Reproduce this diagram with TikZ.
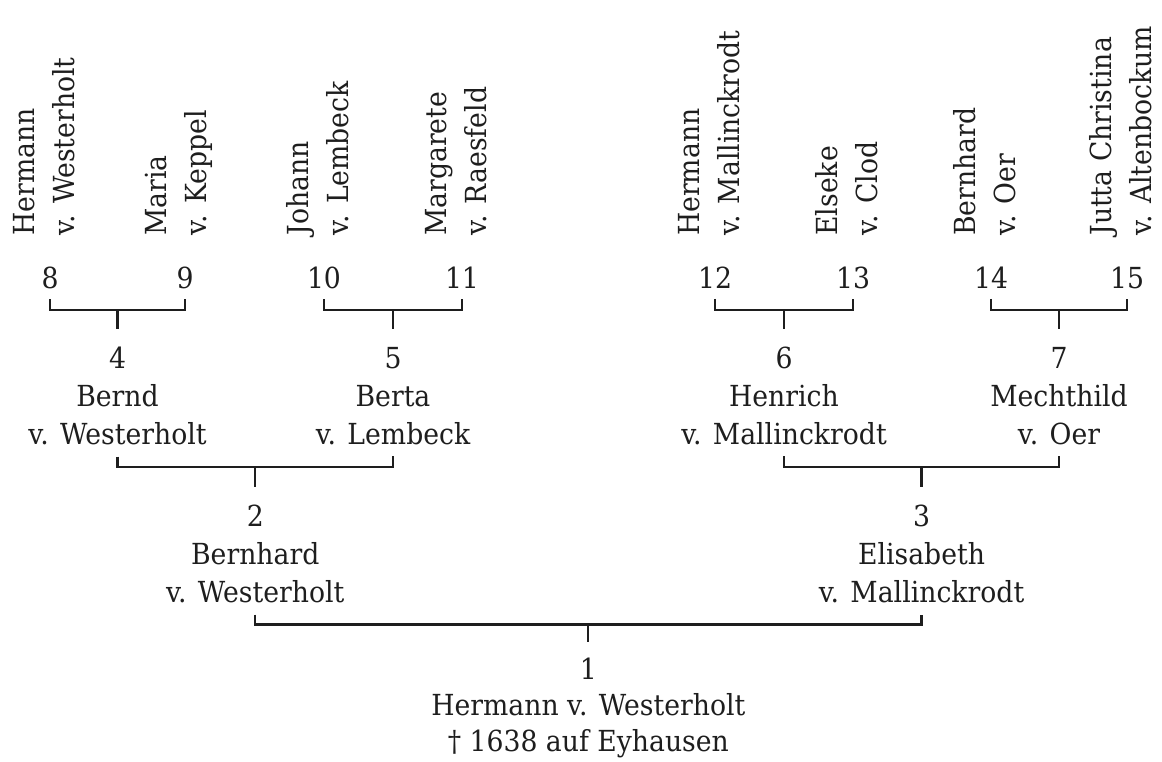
\documentclass[tikz,border=0pt]{standalone}
\usepackage{fontspec}
\setmainfont{DejaVu Serif}[FakeStretch=0.92]
\usetikzlibrary{positioning, calc}
\definecolor{ahnen-ink}{RGB}{30,30,30}

\begin{document}
\begin{tikzpicture}[
    x=1pt, y=-1pt,
    every node/.style={inner sep=0pt, text=ahnen-ink, font=\fontsize{29}{38}\selectfont},
    ahne/.style={rotate=90, anchor=west, align=left, font=\fontsize{29}{40}\selectfont},
    person/.style={align=center},
    bracket/.style={draw=ahnen-ink, line width=2.2pt}
]
\useasboundingbox (0,0) rectangle (1162,762);

% great-grandparents: numbers
\node (n8)  at (50,278)   {8};
\node (n9)  at (185,278)  {9};
\node (n10) at (324,278)  {10};
\node (n11) at (462,278)  {11};
\node (n12) at (715,278)  {12};
\node (n13) at (853,278)  {13};
\node (n14) at (991,278)  {14};
\node (n15) at (1127,278) {15};

% great-grandparents: names
\node[ahne] (a8)  at ([xshift=-6pt, yshift=31pt]n8.north)  {Hermann\\v. Westerholt};
\node[ahne] (a9)  at ([xshift=-6pt, yshift=31pt]n9.north)  {Maria\\v. Keppel};
\node[ahne] (a10) at ([xshift=-6pt, yshift=31pt]n10.north) {Johann\\v. Lembeck};
\node[ahne] (a11) at ([xshift=-6pt, yshift=31pt]n11.north) {Margarete\\v. Raesfeld};
\node[ahne] (a12) at ([xshift=-6pt, yshift=31pt]n12.north) {Hermann\\v. Mallinckrodt};
\node[ahne] (a13) at ([xshift=-6pt, yshift=31pt]n13.north) {Elseke\\v. Clod};
\node[ahne] (a14) at ([xshift=-6pt, yshift=31pt]n14.north) {Bernhard\\v. Oer};
\node[ahne] (a15) at ([xshift=-6pt, yshift=31pt]n15.north) {Jutta Christina\\v. Altenbockum};

% grandparents
\coordinate (j4) at ($(n8.south)!.5!(n9.south)+(0,21)$);
\coordinate (j5) at ($(n10.south)!.5!(n11.south)+(0,21)$);
\coordinate (j6) at ($(n12.south)!.5!(n13.south)+(0,21)$);
\coordinate (j7) at ($(n14.south)!.5!(n15.south)+(0,21)$);
\draw[bracket, shorten <=10pt, shorten >=10pt] (n8.south) |- (j4) -| (n9.south);
\draw[bracket, shorten <=10pt, shorten >=10pt] (n10.south) |- (j5) -| (n11.south);
\draw[bracket, shorten <=10pt, shorten >=10pt] (n12.south) |- (j6) -| (n13.south);
\draw[bracket, shorten <=10pt, shorten >=10pt] (n14.south) |- (j7) -| (n15.south);

\node[person, below=37pt of j4] (n4) {4\\Bernd\\v. Westerholt};
\node[person, below=37pt of j5] (n5) {5\\Berta\\v. Lembeck};
\node[person, below=37pt of j6] (n6) {6\\Henrich\\v. Mallinckrodt};
\node[person, below=37pt of j7] (n7) {7\\Mechthild\\v. Oer};
\draw[bracket, shorten >=18pt] (j4) -- (n4.north);
\draw[bracket, shorten >=18pt] (j5) -- (n5.north);
\draw[bracket, shorten >=18pt] (j6) -- (n6.north);
\draw[bracket, shorten >=18pt] (j7) -- (n7.north);

% parents
\coordinate (j2) at ($(n4.south)!.5!(n5.south)+(0,22)$);
\coordinate (j3) at ($(n6.south)!.5!(n7.south)+(0,22)$);
\draw[bracket, shorten <=11pt, shorten >=11pt] (n4.south) |- (j2) -| (n5.south);
\draw[bracket, shorten <=11pt, shorten >=11pt] (n6.south) |- (j3) -| (n7.south);

\node[person, below=38pt of j2] (n2) {2\\Bernhard\\v. Westerholt};
\node[person, below=38pt of j3] (n3) {3\\Elisabeth\\v. Mallinckrodt};
\draw[bracket, shorten >=18pt] (j2) -- (n2.north);
\draw[bracket, shorten >=18pt] (j3) -- (n3.north);

% proband
\coordinate (j1) at ($(n2.south)!.5!(n3.south)+(0,21)$);
\draw[bracket, shorten <=11pt, shorten >=11pt] (n2.south) |- (j1) -| (n3.south);
\node[person, below=33pt of j1, font=\fontsize{29}{36}\selectfont] (n1) {1\\Hermann v. Westerholt\\† 1638 auf Eyhausen};
\draw[bracket, shorten >=16pt] (j1) -- (n1.north);

\end{tikzpicture}
\end{document}
